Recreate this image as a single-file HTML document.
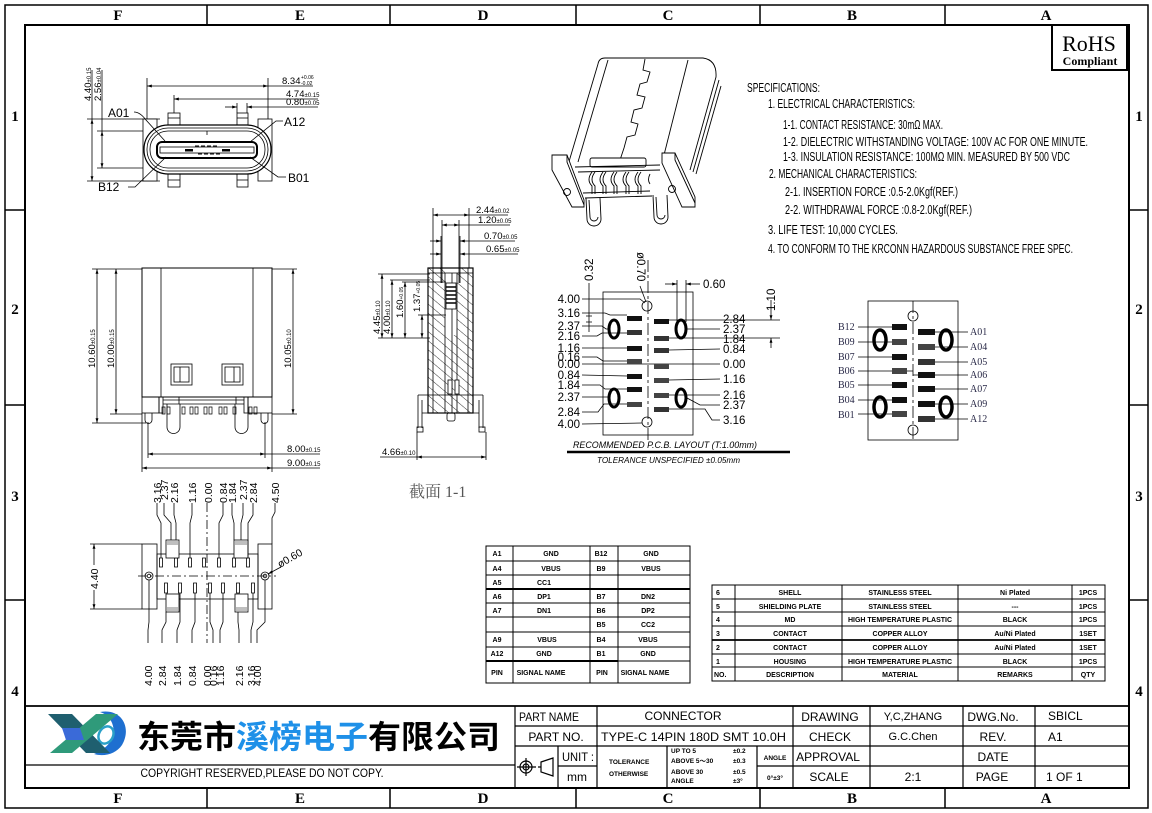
<!DOCTYPE html>
<html><head><meta charset="utf-8"><style>
html,body{margin:0;padding:0;background:#fff;}
svg{display:block;}
text{font-family:"Liberation Sans","Noto Sans CJK SC",sans-serif;fill:#000;}
.s{font-family:"Liberation Serif","Noto Serif CJK SC",serif;}
.b{font-weight:bold;}
</style></head><body>
<svg width="1152" height="813" viewBox="0 0 1152 813" xmlns="http://www.w3.org/2000/svg">
<defs>
<marker id="a" viewBox="0 0 10 10" refX="10" refY="5" markerWidth="6" markerHeight="6" orient="auto-start-reverse"><path d="M0,2 L10,5 L0,8z" fill="#000"/></marker>
<pattern id="h" patternUnits="userSpaceOnUse" width="7" height="7" patternTransform="rotate(-50)"><line x1="0" y1="0" x2="0" y2="7" stroke="#000" stroke-width="0.8"/></pattern>
</defs>

<!-- FRAME -->
<g fill="none" stroke="#000">
<rect x="5" y="5" width="1143" height="803" stroke-width="1.5"/>
<rect x="25" y="25" width="1104" height="763" stroke-width="2"/>
<path d="M207,5V25M390,5V25M576,5V25M760,5V25M945,5V25M207,788V808M390,788V808M576,788V808M760,788V808M945,788V808M5,210H25M5,405H25M5,600H25M1129,210H1148M1129,405H1148M1129,600H1148" stroke-width="1.5"/>
</g>
<g class="s b" font-size="15" text-anchor="middle">
<text x="118" y="20" class="s b">F</text><text x="300" y="20" class="s b">E</text><text x="483" y="20" class="s b">D</text><text x="668" y="20" class="s b">C</text><text x="852" y="20" class="s b">B</text><text x="1046" y="20" class="s b">A</text>
<text x="118" y="803" class="s b">F</text><text x="300" y="803" class="s b">E</text><text x="483" y="803" class="s b">D</text><text x="668" y="803" class="s b">C</text><text x="852" y="803" class="s b">B</text><text x="1046" y="803" class="s b">A</text>
<text x="15" y="121" class="s b">1</text><text x="15" y="314" class="s b">2</text><text x="15" y="501" class="s b">3</text><text x="15" y="696" class="s b">4</text>
<text x="1139" y="121" class="s b">1</text><text x="1139" y="314" class="s b">2</text><text x="1139" y="501" class="s b">3</text><text x="1139" y="696" class="s b">4</text>
</g>

<!-- TOP-LEFT FRONT VIEW -->
<g fill="none" stroke="#000" stroke-width="0.8">
<line x1="147" y1="78" x2="147" y2="140"/><line x1="268" y1="78" x2="268" y2="140"/>
<line x1="147" y1="86" x2="268" y2="86" marker-start="url(#a)" marker-end="url(#a)"/><line x1="268" y1="86" x2="313" y2="86"/>
<line x1="174" y1="95" x2="174" y2="113"/>
<line x1="174" y1="99" x2="318" y2="99" marker-start="url(#a)"/>
<line x1="237" y1="103" x2="237" y2="113"/><line x1="247" y1="103" x2="247" y2="113"/>
<line x1="225" y1="107" x2="237" y2="107" marker-end="url(#a)"/><line x1="247" y1="107" x2="318" y2="107" marker-start="url(#a)"/>
<line x1="87" y1="119" x2="160" y2="119"/><line x1="87" y1="181" x2="160" y2="181"/>
<line x1="97" y1="131" x2="160" y2="131"/><line x1="97" y1="168" x2="160" y2="168"/>
<line x1="92" y1="70" x2="92" y2="119"/><line x1="92" y1="119" x2="92" y2="181" marker-start="url(#a)" marker-end="url(#a)"/>
<line x1="102" y1="70" x2="102" y2="131"/><line x1="102" y1="131" x2="102" y2="168" marker-start="url(#a)" marker-end="url(#a)"/>
<rect x="143" y="119" width="14" height="62" fill="#fff"/>
<rect x="258" y="119" width="14" height="62" fill="#fff"/>
<rect x="168" y="113" width="12" height="13" fill="#fff"/><line x1="168" y1="118" x2="180" y2="118"/>
<rect x="237" y="113" width="11" height="13" fill="#fff"/><line x1="237" y1="118" x2="248" y2="118"/>
<rect x="168" y="172" width="12" height="15" fill="#fff"/><line x1="168" y1="180" x2="180" y2="180"/>
<rect x="237" y="172" width="11" height="15" fill="#fff"/><line x1="237" y1="180" x2="248" y2="180"/>
<rect x="144" y="125" width="127" height="49" rx="24" fill="#fff" stroke-width="1.2"/>
<rect x="147" y="128" width="121" height="43" rx="21"/>
<rect x="150" y="131" width="115" height="37" rx="18"/>
<line x1="207" y1="131" x2="207" y2="135"/>
<rect x="157" y="142" width="100" height="16" rx="5" stroke-width="2"/>
<rect x="160" y="147" width="94" height="6"/>
<path d="M134,112 Q140,112 146,120 L165,141"/>
<path d="M283,121 L276,121 L250,142"/>
<path d="M128,187 L135,187 L166,157"/>
<path d="M286,177 L278,177 L250,157"/>
</g>
<rect x="185" y="149" width="8" height="2.5"/><rect x="222" y="149" width="8" height="2.5"/>
<path d="M195,146h4M201,146h4M207,146h4M213,146h4M198,154h4M204,154h4M210,154h4M216,154h4" stroke="#000" stroke-width="1"/>
<g font-size="12">
<text x="108" y="117">A01</text><text x="284" y="126">A12</text><text x="98" y="191">B12</text><text x="288" y="182">B01</text>
</g>
<g font-size="9.5">
<text x="282" y="84">8.34</text><text x="301" y="79" font-size="5">+0.06</text><text x="301" y="85" font-size="5">-0.02</text>
<text x="286" y="97">4.74<tspan font-size="6">±0.15</tspan></text>
<text x="286" y="105">0.80<tspan font-size="6">±0.05</tspan></text>
<text transform="translate(91,101) rotate(-90)">4.40<tspan font-size="6">±0.15</tspan></text>
<text transform="translate(101,101) rotate(-90)">2.56<tspan font-size="6">±0.04</tspan></text>
</g>

<!-- SIDE VIEW -->
<g fill="none" stroke="#000" stroke-width="0.8">
<line x1="92" y1="269" x2="142" y2="269"/><line x1="92" y1="423" x2="146" y2="423"/>
<line x1="110" y1="414" x2="142" y2="414"/><line x1="272" y1="269" x2="297" y2="269"/><line x1="272" y1="414" x2="297" y2="414"/>
<line x1="97" y1="269" x2="97" y2="423" marker-start="url(#a)" marker-end="url(#a)"/>
<line x1="116" y1="269" x2="116" y2="414" marker-start="url(#a)" marker-end="url(#a)"/>
<line x1="293" y1="269" x2="293" y2="414" marker-start="url(#a)" marker-end="url(#a)"/>
<line x1="148" y1="422" x2="148" y2="458"/><line x1="265" y1="422" x2="265" y2="458"/>
<line x1="142" y1="413" x2="142" y2="472"/><line x1="272" y1="413" x2="272" y2="472"/>
<line x1="148" y1="454" x2="265" y2="454" marker-start="url(#a)" marker-end="url(#a)"/><line x1="265" y1="454" x2="320" y2="454"/>
<line x1="142" y1="468" x2="272" y2="468" marker-start="url(#a)" marker-end="url(#a)"/><line x1="272" y1="468" x2="320" y2="468"/>
<rect x="142" y="268" width="130" height="129" stroke-width="1"/>
<line x1="161" y1="268" x2="161" y2="397"/><line x1="253" y1="268" x2="253" y2="397"/>
<rect x="171" y="364" width="21" height="21"/><rect x="174" y="367" width="15" height="15"/><line x1="180" y1="367" x2="180" y2="382"/>
<rect x="222" y="364" width="21" height="21"/><rect x="225" y="367" width="15" height="15"/><line x1="234" y1="367" x2="234" y2="382"/>
<rect x="142" y="397" width="17" height="16"/><rect x="248" y="397" width="24" height="16"/>
<rect x="159" y="397" width="4" height="16"/><rect x="244" y="397" width="4" height="16"/>
<line x1="163" y1="400" x2="244" y2="400"/><line x1="163" y1="404" x2="244" y2="404"/>
<path d="M179,397 V404 M236,397 V404"/>
<path d="M167,404 V427 A6.5,6.5 0 0 0 180,427 V404"/>
<path d="M235,404 V427 A6.5,6.5 0 0 0 248,427 V404"/>
<path d="M145,413 V420 A3.5,3.5 0 0 0 152,420 V413"/>
<path d="M261,413 V420 A3.5,3.5 0 0 0 268,420 V413"/>
</g>
<g fill="none" stroke="#000" stroke-width="0.7">
<path d="M162,407h3v7h-3zM167,407h3v7h-3zM182,407h3v7h-3zM190,407h3v7h-3zM195,407h3v7h-3zM204,407h3v7h-3zM209,407h3v7h-3zM219,407h3v7h-3zM224,407h3v7h-3zM233,407h3v7h-3zM249,407h3v7h-3zM254,407h3v7h-3z"/>
</g>
<g font-size="9.5">
<text transform="translate(95,368) rotate(-90)">10.60<tspan font-size="6">±0.15</tspan></text>
<text transform="translate(114,368) rotate(-90)">10.00<tspan font-size="6">±0.15</tspan></text>
<text transform="translate(291,368) rotate(-90)">10.05<tspan font-size="6">±0.10</tspan></text>
<text x="287" y="452">8.00<tspan font-size="6">±0.15</tspan></text>
<text x="287" y="466">9.00<tspan font-size="6">±0.15</tspan></text>
</g>

<!-- BOTTOM VIEW -->
<g fill="none" stroke="#000" stroke-width="0.8">
<rect x="142" y="544" width="15" height="65"/><rect x="258" y="544" width="14" height="65"/>
<rect x="157" y="554" width="101" height="45"/>
<line x1="138" y1="576" x2="276" y2="576" stroke-dasharray="9,3,2,3"/>
<line x1="207" y1="503" x2="207" y2="643" stroke-dasharray="9,3,2,3"/>
<circle cx="149" cy="576" r="4"/><circle cx="149" cy="576" r="1.8"/>
<circle cx="265" cy="576" r="4"/><circle cx="265" cy="576" r="1.8"/>
<path d="M159.5,558h3v9h-3zM174.5,558h3v9h-3zM188.5,558h3v9h-3zM202.5,558h3v9h-3zM217.5,558h3v9h-3zM232.5,558h3v9h-3zM246.5,558h3v9h-3z"/>
<path d="M164.5,583h3v10h-3zM178.5,583h3v10h-3zM193.5,583h3v10h-3zM208.5,583h3v10h-3zM221.5,583h3v10h-3zM236.5,583h3v10h-3zM251.5,583h3v10h-3z"/>
<rect x="166" y="540" width="13" height="18" fill="#fff"/><rect x="234" y="540" width="14" height="18" fill="#fff"/>
<rect x="166" y="594" width="13" height="18" fill="#fff"/><rect x="235" y="594" width="13" height="18" fill="#fff"/>
<line x1="90" y1="544" x2="142" y2="544"/><line x1="90" y1="609" x2="142" y2="609"/>
<line x1="94" y1="544" x2="94" y2="565" marker-start="url(#a)"/><line x1="94" y1="590" x2="94" y2="609" marker-end="url(#a)"/>
<polyline points="157,503 157,515 161,523 161,558"/>
<polyline points="164,503 164,515 171,523 171,540"/>
<polyline points="174,503 174,515 176,523 176,540"/>
<polyline points="192,503 192,515 190,523 190,558"/>
<polyline points="223,503 223,515 219,523 219,558"/>
<polyline points="232,503 232,515 234,523 234,540"/>
<polyline points="243,503 243,515 241,523 241,540"/>
<polyline points="253,503 253,515 248,523 248,558"/>
<polyline points="275,503 275,512 272,518 272,544"/>
<polyline points="148,643 148,630 149,622 149,580"/>
<polyline points="162,643 162,630 166,622 166,612"/>
<polyline points="177,643 177,630 180,622 180,593"/>
<polyline points="192,643 192,630 195,622 195,593"/>
<polyline points="213,643 213,630 210,622 210,593"/>
<polyline points="220,643 220,630 223,622 223,593"/>
<polyline points="239,643 239,630 238,622 238,612"/>
<polyline points="251,643 251,630 253,622 253,593"/>
<polyline points="257,643 257,630 265,622 265,580"/>
<line x1="268" y1="574" x2="281" y2="567" marker-start="url(#a)"/>
</g>
<g stroke="#000" stroke-width="0.6"><path d="M167,542h11M167,544h11M235,542h12M235,544h12M167,608h11M167,610h11M236,608h11M236,610h11"/></g>
<g font-size="10.5">
<text transform="translate(161,503) rotate(-90)">3.16</text>
<text transform="translate(168,500) rotate(-90)">2.37</text>
<text transform="translate(178,503) rotate(-90)">2.16</text>
<text transform="translate(196,503) rotate(-90)">1.16</text>
<text transform="translate(212,503) rotate(-90)">0.00</text>
<text transform="translate(227,503) rotate(-90)">0.84</text>
<text transform="translate(236,503) rotate(-90)">1.84</text>
<text transform="translate(247,500) rotate(-90)">2.37</text>
<text transform="translate(257,503) rotate(-90)">2.84</text>
<text transform="translate(279,503) rotate(-90)">4.50</text>
<text transform="translate(152,686) rotate(-90)">4.00</text>
<text transform="translate(166,686) rotate(-90)">2.84</text>
<text transform="translate(181,686) rotate(-90)">1.84</text>
<text transform="translate(196,686) rotate(-90)">0.84</text>
<text transform="translate(211,686) rotate(-90)">0.00</text>
<text transform="translate(217,686) rotate(-90)">0.16</text>
<text transform="translate(224,686) rotate(-90)">1.16</text>
<text transform="translate(243,686) rotate(-90)">2.16</text>
<text transform="translate(255,686) rotate(-90)">3.16</text>
<text transform="translate(261,686) rotate(-90)">4.00</text>
<text transform="translate(98,589) rotate(-90)">4.40</text>
<text transform="translate(280,568) rotate(-30)">ø0.60</text>
</g>

<!-- SECTION 1-1 -->
<g fill="none" stroke="#000" stroke-width="0.8">
<rect x="428" y="268" width="17" height="145" fill="url(#h)" stroke="none"/>
<rect x="457" y="268" width="16" height="145" fill="url(#h)" stroke="none"/>
<rect x="445" y="335" width="12" height="78" fill="url(#h)" stroke="none"/>
<rect x="428" y="268" width="45" height="145" stroke-width="1.2"/>
<line x1="428" y1="273" x2="473" y2="273"/>
<line x1="433" y1="268" x2="433" y2="413"/><line x1="445" y1="273" x2="445" y2="413"/>
<line x1="452" y1="273" x2="452" y2="413"/><line x1="457" y1="273" x2="457" y2="413"/>
<line x1="468" y1="268" x2="468" y2="413"/>
<rect x="446" y="283" width="10" height="26" fill="#fff"/>
<path d="M446,287h10M446,291h10M446,295h10M446,299h10M446,303h10" stroke-width="1.5"/>
<path d="M418,395 H483 M418,395 V428 M422,400 V428 M483,395 V428 M479,400 V428 M422,413 H479"/>
<rect x="417" y="427" width="6" height="5"/><rect x="479" y="427" width="6" height="5"/>
<rect x="447" y="413" width="8" height="8" rx="2"/>
<rect x="448" y="380" width="4" height="14" fill="#fff"/><rect x="455" y="380" width="4" height="14" fill="#fff"/>
<line x1="433" y1="208" x2="433" y2="268"/><line x1="469" y1="208" x2="469" y2="268"/>
<line x1="433" y1="215" x2="469" y2="215" marker-start="url(#a)" marker-end="url(#a)"/><line x1="469" y1="215" x2="508" y2="215"/>
<line x1="442" y1="220" x2="442" y2="283"/><line x1="459" y1="220" x2="459" y2="283"/>
<line x1="442" y1="225" x2="459" y2="225" marker-start="url(#a)" marker-end="url(#a)"/><line x1="459" y1="225" x2="510" y2="225"/>
<line x1="441" y1="236" x2="441" y2="283"/><line x1="460" y1="236" x2="460" y2="283"/>
<line x1="430" y1="241" x2="441" y2="241" marker-end="url(#a)"/><line x1="460" y1="241" x2="515" y2="241" marker-start="url(#a)"/>
<line x1="430" y1="254" x2="441" y2="254" marker-end="url(#a)"/><line x1="460" y1="254" x2="518" y2="254" marker-start="url(#a)"/>
<line x1="378" y1="274" x2="430" y2="274"/><line x1="378" y1="338" x2="430" y2="338"/>
<line x1="390" y1="280" x2="430" y2="280"/><line x1="402" y1="282" x2="446" y2="282"/><line x1="418" y1="315" x2="446" y2="315"/>
<line x1="382" y1="274" x2="382" y2="338" marker-start="url(#a)" marker-end="url(#a)"/>
<line x1="392" y1="280" x2="392" y2="338" marker-start="url(#a)" marker-end="url(#a)"/>
<line x1="405" y1="282" x2="405" y2="338" marker-start="url(#a)" marker-end="url(#a)"/>
<line x1="422" y1="315" x2="422" y2="338" marker-start="url(#a)" marker-end="url(#a)"/>
<line x1="417" y1="432" x2="417" y2="460"/><line x1="486" y1="432" x2="486" y2="460"/>
<line x1="417" y1="457" x2="486" y2="457" marker-start="url(#a)" marker-end="url(#a)"/><line x1="380" y1="457" x2="417" y2="457"/>
</g>
<g font-size="9.5">
<text x="476" y="213">2.44<tspan font-size="6">±0.02</tspan></text>
<text x="478" y="223">1.20<tspan font-size="6">±0.05</tspan></text>
<text x="484" y="239">0.70<tspan font-size="6">±0.05</tspan></text>
<text x="486" y="252">0.65<tspan font-size="6">±0.05</tspan></text>
<text transform="translate(380,334) rotate(-90)">4.45<tspan font-size="6">±0.10</tspan></text>
<text transform="translate(390,334) rotate(-90)">4.00<tspan font-size="6">±0.10</tspan></text>
<text transform="translate(403,318) rotate(-90)">1.60<tspan font-size="5">+0.05</tspan></text>
<text transform="translate(420,312) rotate(-90)">1.37<tspan font-size="5">+0.05</tspan></text>
<text x="382" y="455">4.66<tspan font-size="6">±0.10</tspan></text>
</g>
<text x="409" y="497" font-size="16" class="s" style="fill:#555">截面 1-1</text>

<!-- 3D VIEW -->
<g fill="none" stroke="#000" stroke-width="0.9">
<path d="M598,64 Q599,58 605,58 L703,58 Q717,60 716,77 L690,170"/>
<path d="M598,64 L568,165"/>
<path d="M608,60 L578,162"/><path d="M688,60 L664,155"/>
<path d="M719,80 L693,172"/><path d="M721,86 L696,174"/>
<polyline points="645,59 643,70 650,72 647,82 640,84 637,95 645,97 642,108 634,110 631,122 638,124 635,135 627,137 624,148 620,160"/>
<polygon points="552,155 567,155 584,200 584,207 572,207 552,170" fill="#fff"/>
<path d="M567,155 L567,162 L584,205"/>
<polygon points="662,153 675,153 695,197 695,207 682,207 662,163" fill="#fff"/>
<path d="M675,153 L675,160 L695,203"/>
<rect x="590" y="158" width="56" height="9" rx="2" fill="#fff"/>
<path d="M575,167 L660,165 M578,172 L660,170"/>
<path d="M592,172 q-6,8 0,14 v8 M603,172 q-6,8 0,14 v8 M614,172 q-6,8 0,14 v8 M626,172 q-6,8 0,14 v8 M638,172 q-6,8 0,14 v8 M650,174 q-3,6 0,10"/>
<path d="M595,172 q-6,8 0,14 v8 M606,172 q-6,8 0,14 v8 M617,172 q-6,8 0,14 v8 M629,172 q-6,8 0,14 v8 M641,172 q-6,8 0,14 v8"/>
<path d="M586,198 L587,219 A7,7 0 0 0 601,219 L600,198"/>
<path d="M589,200 L590,217 A4,4 0 0 0 598,217"/>
<path d="M653,195 L654,217 A7,7 0 0 0 668,217 L667,195"/>
<path d="M656,197 L657,215 A4,4 0 0 0 665,215"/>
<circle cx="567" cy="192" r="3.5"/><circle cx="672" cy="189" r="3.5"/>
<path d="M583,193 L650,191 M585,198 L652,196"/>
</g>

<!-- SPECIFICATIONS -->
<g font-size="12.5">
<text x="747" y="92" textLength="73" lengthAdjust="spacingAndGlyphs">SPECIFICATIONS:</text>
<text x="768" y="108" textLength="147" lengthAdjust="spacingAndGlyphs">1. ELECTRICAL CHARACTERISTICS:</text>
<text x="783" y="129" textLength="160" lengthAdjust="spacingAndGlyphs">1-1. CONTACT RESISTANCE: 30mΩ MAX.</text>
<text x="783" y="146" textLength="305" lengthAdjust="spacingAndGlyphs">1-2. DIELECTRIC WITHSTANDING VOLTAGE: 100V AC FOR ONE MINUTE.</text>
<text x="783" y="161" textLength="287" lengthAdjust="spacingAndGlyphs">1-3. INSULATION RESISTANCE: 100MΩ MIN. MEASURED BY 500 VDC</text>
<text x="769" y="178" textLength="148" lengthAdjust="spacingAndGlyphs">2. MECHANICAL CHARACTERISTICS:</text>
<text x="785" y="196" textLength="173" lengthAdjust="spacingAndGlyphs">2-1. INSERTION FORCE :0.5-2.0Kgf(REF.)</text>
<text x="785" y="214" textLength="187" lengthAdjust="spacingAndGlyphs">2-2. WITHDRAWAL FORCE :0.8-2.0Kgf(REF.)</text>
<text x="768" y="234" textLength="130" lengthAdjust="spacingAndGlyphs">3. LIFE TEST: 10,000 CYCLES.</text>
<text x="768" y="253" textLength="305" lengthAdjust="spacingAndGlyphs">4. TO CONFORM TO THE KRCONN HAZARDOUS SUBSTANCE FREE SPEC.</text>
</g>
<rect x="1052" y="25" width="75" height="45" fill="#fff" stroke="#000" stroke-width="2"/>
<text x="1089" y="51" font-size="22" text-anchor="middle" class="s">RoHS</text>
<text x="1090" y="65" font-size="12" text-anchor="middle" class="s b">Compliant</text>

<!-- PCB LAYOUT -->
<g fill="none" stroke="#000" stroke-width="0.8">
<rect x="603" y="292" width="90" height="143"/>
<line x1="648" y1="260" x2="648" y2="440" stroke-dasharray="12,3,3,3"/>
<circle cx="647" cy="306" r="5"/><circle cx="647" cy="422" r="5"/>
<ellipse cx="614" cy="329" rx="5" ry="9" stroke-width="3"/><ellipse cx="614" cy="398" rx="5" ry="9" stroke-width="3"/>
<ellipse cx="681" cy="329" rx="5" ry="9" stroke-width="3"/><ellipse cx="681" cy="398" rx="5" ry="9" stroke-width="3"/>
<polyline points="582,299 640,299 645,303"/>
<polyline points="582,313 605,313 610,315 627,315"/>
<polyline points="582,326 602,326 606,329 609,329"/>
<polyline points="582,336 597,336 602,333 627,333"/>
<polyline points="582,348 627,348"/>
<polyline points="582,357 597,357 603,361 627,361"/>
<polyline points="582,364 720,364"/>
<polyline points="582,375 627,376"/>
<polyline points="582,385 600,385 605,389 627,389"/>
<polyline points="582,397 609,397"/>
<polyline points="582,412 598,412 604,404 627,404"/>
<polyline points="582,424 642,423"/>
<polyline points="669,320 780,320"/>
<polyline points="687,329 720,329"/>
<polyline points="669,338 780,338"/>
<polyline points="669,350 720,349"/>
<polyline points="669,380 720,379"/>
<polyline points="669,395 720,395"/>
<polyline points="687,398 700,405 720,405"/>
<polyline points="669,409 705,409 712,420 720,420"/>
<line x1="589" y1="283" x2="589" y2="332"/>
<path d="M586,316h6M586,322h6"/>
<line x1="640" y1="286" x2="646" y2="302"/>
<line x1="677" y1="280" x2="677" y2="322"/><line x1="686" y1="280" x2="686" y2="322"/>
<line x1="665" y1="284" x2="677" y2="284" marker-end="url(#a)"/><line x1="686" y1="284" x2="700" y2="284" marker-start="url(#a)"/>
<line x1="771" y1="300" x2="771" y2="320" marker-end="url(#a)"/><line x1="771" y1="338" x2="771" y2="348" marker-start="url(#a)"/>
<line x1="567" y1="452" x2="790" y2="452" stroke-width="2.5"/>
</g>
<g fill="#111">
<rect x="627" y="316" width="15" height="5"/><rect x="627" y="330" width="15" height="5" fill="#333"/>
<rect x="627" y="346" width="15" height="5"/><rect x="627" y="359" width="15" height="5" fill="#444"/>
<rect x="627" y="374" width="15" height="5"/><rect x="627" y="387" width="15" height="5"/>
<rect x="627" y="402" width="15" height="5" fill="#444"/>
<rect x="654" y="319" width="15" height="5"/><rect x="654" y="336" width="15" height="5" fill="#333"/>
<rect x="654" y="348" width="15" height="5" fill="#333"/><rect x="654" y="364" width="15" height="5" fill="#444"/>
<rect x="654" y="378" width="15" height="5" fill="#444"/><rect x="654" y="393" width="15" height="5" fill="#444"/>
<rect x="654" y="407" width="15" height="5" fill="#333"/>
</g>
<g font-size="11.5" text-anchor="end">
<text x="580" y="303">4.00</text><text x="580" y="317">3.16</text><text x="580" y="330">2.37</text><text x="580" y="340">2.16</text>
<text x="580" y="352">1.16</text><text x="580" y="361">0.16</text><text x="580" y="368">0.00</text><text x="580" y="379">0.84</text>
<text x="580" y="389">1.84</text><text x="580" y="401">2.37</text><text x="580" y="416">2.84</text><text x="580" y="428">4.00</text>
</g>
<g font-size="11.5">
<text x="723" y="323">2.84</text><text x="723" y="333">2.37</text><text x="723" y="343">1.84</text><text x="723" y="353">0.84</text>
<text x="723" y="368">0.00</text><text x="723" y="383">1.16</text><text x="723" y="399">2.16</text><text x="723" y="409">2.37</text>
<text x="723" y="424">3.16</text>
<text x="703" y="288">0.60</text>
<text transform="translate(593,281) rotate(-90)">0.32</text>
<text transform="translate(637,252) rotate(90)">ø0.70</text>
<text transform="translate(775,311) rotate(-90)">1.10</text>
</g>
<text x="573" y="448" font-size="9" font-style="italic" textLength="184" lengthAdjust="spacingAndGlyphs">RECOMMENDED   P.C.B. LAYOUT  (T:1.00mm)</text>
<text x="597" y="463" font-size="8.5" font-style="italic" textLength="143" lengthAdjust="spacingAndGlyphs">TOLERANCE  UNSPECIFIED  ±0.05mm</text>

<!-- PIN DIAGRAM RIGHT -->
<g fill="none" stroke="#000" stroke-width="0.8">
<rect x="868" y="301" width="90" height="139"/>
<line x1="913" y1="301" x2="913" y2="440" stroke-dasharray="12,3,3,3"/>
<circle cx="913" cy="316" r="5"/><circle cx="913" cy="430" r="5"/>
<ellipse cx="880" cy="340" rx="6" ry="10" stroke-width="3.5"/><ellipse cx="880" cy="407" rx="6" ry="10" stroke-width="3.5"/>
<ellipse cx="946" cy="340" rx="6" ry="10" stroke-width="3.5"/><ellipse cx="946" cy="407" rx="6" ry="10" stroke-width="3.5"/>
<path d="M858,327H892M858,342H892M858,357H892M858,371H913M858,385H892M858,400H892M858,414H892"/>
<path d="M935,332H968M935,347H968M935,362H968M913,375H968M935,389H968M935,404H968M935,419H968"/>
</g>
<g fill="#111">
<rect x="892" y="324" width="15" height="6"/><rect x="892" y="339" width="15" height="6" fill="#444"/>
<rect x="892" y="354" width="15" height="6"/><rect x="892" y="368" width="15" height="6" fill="#444"/>
<rect x="892" y="382" width="15" height="6"/><rect x="892" y="397" width="15" height="6"/>
<rect x="892" y="411" width="15" height="6" fill="#444"/>
<rect x="918" y="329" width="17" height="6"/><rect x="918" y="344" width="17" height="6" fill="#444"/>
<rect x="918" y="359" width="17" height="6" fill="#333"/><rect x="918" y="372" width="17" height="6"/>
<rect x="918" y="386" width="17" height="6"/><rect x="918" y="401" width="17" height="6"/>
<rect x="918" y="416" width="17" height="6" fill="#333"/>
</g>
<g font-size="10">
<text x="838" y="330" class="s" style="fill:#2a2a48">B12</text><text x="838" y="345" class="s" style="fill:#2a2a48">B09</text><text x="838" y="360" class="s" style="fill:#2a2a48">B07</text>
<text x="838" y="374" class="s" style="fill:#2a2a48">B06</text><text x="838" y="388" class="s" style="fill:#2a2a48">B05</text><text x="838" y="403" class="s" style="fill:#2a2a48">B04</text><text x="838" y="418" class="s" style="fill:#2a2a48">B01</text>
<text x="970" y="335" class="s" style="fill:#2a2a48">A01</text><text x="970" y="350" class="s" style="fill:#2a2a48">A04</text><text x="970" y="365" class="s" style="fill:#2a2a48">A05</text>
<text x="970" y="378" class="s" style="fill:#2a2a48">A06</text><text x="970" y="392" class="s" style="fill:#2a2a48">A07</text><text x="970" y="407" class="s" style="fill:#2a2a48">A09</text><text x="970" y="422" class="s" style="fill:#2a2a48">A12</text>
</g>

<!-- PIN TABLE -->
<g fill="none" stroke="#000" stroke-width="1">
<rect x="486" y="546" width="204" height="137"/>
<path d="M513,546V683M590,546V683M618,546V683"/>
<path d="M486,561H690M486,575H690M486,603H690M486,617H690M486,632H690M486,647H690"/>
<path d="M486,589H690M486,661H618" stroke-width="2"/><path d="M618,661H690"/>
</g>
<g font-size="7" class="b" text-anchor="middle">
<text x="497" y="556">A1</text><text x="551" y="556">GND</text><text x="601" y="556">B12</text><text x="651" y="556">GND</text>
<text x="497" y="571">A4</text><text x="551" y="571">VBUS</text><text x="601" y="571">B9</text><text x="651" y="571">VBUS</text>
<text x="497" y="585">A5</text><text x="544" y="585">CC1</text>
<text x="497" y="599">A6</text><text x="544" y="599">DP1</text><text x="601" y="599">B7</text><text x="648" y="599">DN2</text>
<text x="497" y="613">A7</text><text x="544" y="613">DN1</text><text x="601" y="613">B6</text><text x="648" y="613">DP2</text>
<text x="601" y="627">B5</text><text x="648" y="627">CC2</text>
<text x="497" y="642">A9</text><text x="547" y="642">VBUS</text><text x="601" y="642">B4</text><text x="648" y="642">VBUS</text>
<text x="497" y="656">A12</text><text x="544" y="656">GND</text><text x="601" y="656">B1</text><text x="648" y="656">GND</text>
<text x="497" y="675">PIN</text><text x="541" y="675">SIGNAL NAME</text><text x="602" y="675">PIN</text><text x="645" y="675">SIGNAL NAME</text>
</g>

<!-- BOM TABLE -->
<g fill="none" stroke="#000" stroke-width="1">
<rect x="712" y="585" width="393" height="96"/>
<path d="M735,585V681M842,585V681M958,585V681M1072,585V681"/>
<path d="M712,599H1105M712,612H1105M712,626H1105M712,654H1105M712,667H1105"/>
<path d="M712,640H1105" stroke-width="1.8"/>
</g>
<g font-size="7" class="b">
<text x="716" y="595">6</text><text x="716" y="609">5</text><text x="716" y="622">4</text><text x="716" y="636">3</text><text x="716" y="650">2</text><text x="716" y="664">1</text><text x="714" y="677">NO.</text>
</g>
<g font-size="7" class="b" text-anchor="middle">
<text x="790" y="595">SHELL</text><text x="900" y="595">STAINLESS STEEL</text><text x="1015" y="595">Ni Plated</text><text x="1088" y="595">1PCS</text>
<text x="790" y="609">SHIELDING PLATE</text><text x="900" y="609">STAINLESS STEEL</text><text x="1015" y="609">---</text><text x="1088" y="609">1PCS</text>
<text x="790" y="622">MD</text><text x="900" y="622">HIGH TEMPERATURE PLASTIC</text><text x="1015" y="622">BLACK</text><text x="1088" y="622">1PCS</text>
<text x="790" y="636">CONTACT</text><text x="900" y="636">COPPER ALLOY</text><text x="1015" y="636">Au/Ni Plated</text><text x="1088" y="636">1SET</text>
<text x="790" y="650">CONTACT</text><text x="900" y="650">COPPER ALLOY</text><text x="1015" y="650">Au/Ni Plated</text><text x="1088" y="650">1SET</text>
<text x="790" y="664">HOUSING</text><text x="900" y="664">HIGH TEMPERATURE PLASTIC</text><text x="1015" y="664">BLACK</text><text x="1088" y="664">1PCS</text>
<text x="790" y="677">DESCRIPTION</text><text x="900" y="677">MATERIAL</text><text x="1015" y="677">REMARKS</text><text x="1088" y="677">QTY</text>
</g>

<!-- TITLE BLOCK -->
<g fill="none" stroke="#000" stroke-width="1.2">
<line x1="25" y1="706" x2="1129" y2="706" stroke-width="1.8"/>
<line x1="25" y1="765" x2="515" y2="765"/>
<path d="M515,706V788M597,706V788M793,706V788M870,706V788M963,706V788M1035,706V788M558,746V788M667,746V788M757,746V788"/>
<path d="M515,726H1129M515,746H1129M558,766H597M757,766H1129"/>
<circle cx="526" cy="767" r="6"/><circle cx="526" cy="767" r="3"/>
<path d="M517,767H536M526,758V776"/>
<path d="M538,767H541 M541,762 L553,758 L553,776 L541,772 Z"/>
</g>
<g font-size="12">
<text x="519" y="721" textLength="60" lengthAdjust="spacingAndGlyphs">PART NAME</text>
<text x="556" y="741" text-anchor="middle">PART NO.</text>
<text x="562" y="761" textLength="32" lengthAdjust="spacingAndGlyphs">UNIT :</text>
<text x="577" y="781" text-anchor="middle">mm</text>
<text x="683" y="720" text-anchor="middle">CONNECTOR</text>
<text x="601" y="741" textLength="185" lengthAdjust="spacingAndGlyphs">TYPE-C 14PIN 180D SMT 10.0H</text>
<text x="830" y="721" text-anchor="middle">DRAWING</text>
<text x="830" y="741" text-anchor="middle">CHECK</text>
<text x="828" y="761" text-anchor="middle">APPROVAL</text>
<text x="829" y="781" text-anchor="middle">SCALE</text>
<text x="913" y="720" text-anchor="middle" font-size="11">Y,C,ZHANG</text>
<text x="913" y="740" text-anchor="middle" font-size="11">G.C.Chen</text>
<text x="913" y="781" text-anchor="middle">2:1</text>
<text x="993" y="721" text-anchor="middle">DWG.No.</text>
<text x="993" y="741" text-anchor="middle">REV.</text>
<text x="993" y="761" text-anchor="middle">DATE</text>
<text x="992" y="781" text-anchor="middle">PAGE</text>
<text x="1048" y="720">SBICL</text>
<text x="1048" y="741">A1</text>
<text x="1046" y="781">1 OF 1</text>
<text x="262" y="777" text-anchor="middle" textLength="243" lengthAdjust="spacingAndGlyphs">COPYRIGHT RESERVED,PLEASE DO NOT COPY.</text>
</g>
<g font-size="6.5" class="b">
<text x="609" y="764">TOLERANCE</text><text x="609" y="776">OTHERWISE</text>
<text x="671" y="753">UP TO 5</text><text x="671" y="763">ABOVE 5～30</text><text x="671" y="774">ABOVE 30</text><text x="671" y="783">ANGLE</text>
<text x="733" y="753">±0.2</text><text x="733" y="763">±0.3</text><text x="733" y="774">±0.5</text><text x="733" y="783">±3°</text>
<text x="775" y="760" text-anchor="middle">ANGLE</text><text x="775" y="780" text-anchor="middle">0°±3°</text>
</g>

<!-- LOGO -->
<g>
<path d="M100,712 C122,708 132,728 122,745 C116,754 104,757 94,754 C108,748 116,738 113,726 C111,718 106,714 100,712Z" fill="#1e6fd0"/>
<ellipse cx="106" cy="735" rx="7" ry="9" fill="none" stroke="#2aa0c8" stroke-width="2.5" transform="rotate(30 106 735)"/>
<polygon points="48,714 72,714 110,753 86,753" fill="#1f5f6f"/>
<polygon points="96,714 118,714 72,753 50,753" fill="#2f9a7a"/>
<polygon points="62,728 80,728 84,740 66,740" fill="#3a6ad8"/>
</g>
<text x="137" y="748" font-size="32" font-weight="bold" textLength="363" lengthAdjust="spacingAndGlyphs" style="font-family:'Noto Sans CJK SC','WenQuanYi Zen Hei',sans-serif">东莞市<tspan style="fill:#1e90e8">溪榜电子</tspan>有限公司</text>
</svg>
</body></html>
